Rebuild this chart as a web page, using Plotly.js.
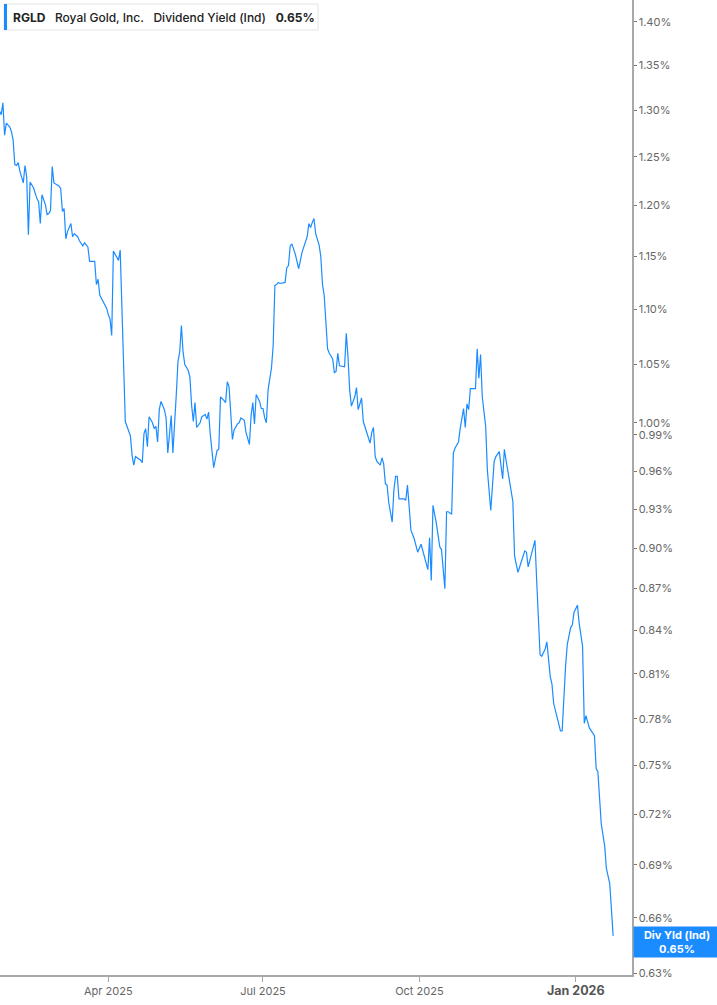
<!DOCTYPE html>
<html>
<head>
<meta charset="utf-8">
<script src="https://cdn.plot.ly/plotly-3.0.1.min.js"></script>
<style>
  html, body { margin: 0; padding: 0; background: #ffffff; }
  #chart { width: 717px; height: 1005px; }
</style>
</head>
<body>
<div id="chart"></div>
<script>
// Day number counted from 2025-01-01 (= 1); values above 365 fall in 2026
const dayNum = [
  27, 28, 29, 30, 31, 33, 34, 35, 36, 37,
  38, 39, 41, 42, 43, 44, 45, 47, 49, 50,
  51, 52, 54, 55, 56, 57, 58, 59, 62, 63,
  64, 65, 66, 67, 69, 70, 71, 73, 74, 76,
  77, 79, 80, 83, 84, 85, 86, 88, 90, 91,
  92, 93, 94, 95, 97, 98, 101, 102, 104, 105,
  106, 107, 110, 111, 112, 113, 114, 115, 117, 118,
  119, 120, 121, 122, 124, 125, 126, 128, 129, 131,
  132, 133, 134, 135, 136, 138, 139, 140, 141, 142,
  143, 145, 146, 148, 149, 150, 151, 153, 154, 155,
  156, 157, 159, 160, 161, 162, 163, 164, 165, 167,
  168, 169, 171, 172, 174, 175, 176, 177, 178, 180,
  181, 182, 183, 184, 185, 187, 188, 189, 190, 191,
  192, 194, 195, 196, 197, 198, 199, 201, 202, 203,
  205, 206, 208, 209, 210, 211, 212, 213, 215, 216,
  217, 218, 220, 221, 223, 224, 225, 226, 227, 230,
  231, 232, 233, 234, 236, 237, 238, 240, 241, 243,
  245, 246, 247, 248, 249, 251, 252, 253, 254, 255,
  256, 258, 259, 260, 261, 262, 265, 266, 267, 268,
  269, 271, 273, 275, 277, 279, 280, 281, 282, 284,
  286, 287, 289, 290, 291, 293, 294, 295, 297, 298,
  300, 301, 302, 303, 304, 307, 308, 309, 310, 311,
  313, 314, 316, 318, 319, 321, 323, 324, 325, 327,
  329, 330, 332, 334, 336, 337, 338, 340, 342, 343,
  345, 346, 348, 349, 350, 351, 352, 353, 355, 357,
  358, 359, 360, 361, 363, 364, 365, 367, 368, 370,
  371, 372, 373, 374, 377, 378, 379, 381, 383, 384,
  386, 388
];

// Dividend yield (indicated), percent
const yieldPct = [
  1.299, 1.295, 1.308, 1.273, 1.286, 1.282, 1.277, 1.268, 1.242, 1.241,
  1.244, 1.235, 1.223, 1.241, 1.229, 1.171, 1.224, 1.218, 1.207, 1.204,
  1.182, 1.211, 1.201, 1.191, 1.192, 1.195, 1.240, 1.223, 1.220, 1.217,
  1.194, 1.197, 1.167, 1.174, 1.182, 1.169, 1.172, 1.169, 1.165, 1.160,
  1.163, 1.159, 1.145, 1.145, 1.123, 1.128, 1.113, 1.107, 1.101, 1.095,
  1.091, 1.076, 1.155, 1.152, 1.146, 1.156, 1.001, 0.997, 0.989, 0.973,
  0.965, 0.972, 0.969, 0.967, 0.991, 0.995, 0.980, 1.005, 1.000, 0.995,
  0.997, 0.984, 1.011, 1.018, 1.011, 1.004, 0.975, 1.006, 0.975, 1.024,
  1.053, 1.061, 1.085, 1.061, 1.050, 1.045, 1.039, 1.015, 1.001, 1.017,
  0.996, 1.000, 1.005, 1.007, 1.003, 1.009, 0.990, 0.963, 0.971, 0.977,
  0.978, 1.022, 1.019, 1.017, 1.035, 1.031, 1.009, 0.986, 0.994, 0.999,
  1.000, 1.004, 1.002, 0.992, 0.982, 1.006, 1.017, 0.999, 1.024, 1.018,
  1.012, 1.012, 1.004, 1.000, 1.028, 1.047, 1.067, 1.122, 1.123, 1.125,
  1.124, 1.125, 1.125, 1.139, 1.141, 1.160, 1.162, 1.152, 1.143, 1.138,
  1.154, 1.159, 1.169, 1.182, 1.178, 1.183, 1.187, 1.172, 1.161, 1.150,
  1.123, 1.113, 1.064, 1.060, 1.055, 1.043, 1.044, 1.060, 1.049, 1.048,
  1.078, 1.057, 1.028, 1.014, 1.022, 1.030, 1.011, 1.021, 1.001, 0.992,
  0.983, 0.992, 0.996, 0.972, 0.968, 0.965, 0.971, 0.966, 0.950, 0.949,
  0.935, 0.920, 0.945, 0.956, 0.956, 0.938, 0.938, 0.937, 0.949, 0.932,
  0.914, 0.907, 0.897, 0.903, 0.894, 0.884, 0.908, 0.876, 0.933, 0.919,
  0.901, 0.899, 0.870, 0.928, 0.928, 0.926, 0.975, 0.979, 0.984, 0.995,
  1.012, 0.996, 1.016, 1.011, 1.029, 1.029, 1.064, 1.038, 1.059, 1.022,
  0.997, 0.961, 0.929, 0.968, 0.972, 0.976, 0.954, 0.978, 0.969, 0.953,
  0.936, 0.894, 0.882, 0.890, 0.898, 0.897, 0.886, 0.896, 0.906, 0.876,
  0.823, 0.822, 0.827, 0.832, 0.819, 0.808, 0.803, 0.790, 0.781, 0.772,
  0.772, 0.795, 0.815, 0.830, 0.842, 0.844, 0.853, 0.858, 0.845, 0.829,
  0.777, 0.782, 0.778, 0.774, 0.769, 0.748, 0.746, 0.714, 0.701, 0.688,
  0.679, 0.650
];

const xTickDates = ['2025-04-01', '2025-07-01', '2025-10-01', '2026-01-01'];
const xTickLabels = ['Apr 2025', 'Jul 2025', 'Oct 2025', 'Jan 2026'];
const yTickVals = [0.63, 0.66, 0.69, 0.72, 0.75, 0.78, 0.81, 0.84, 0.87, 0.90,
                   0.93, 0.96, 0.99, 1.00, 1.05, 1.10, 1.15, 1.20, 1.25, 1.30,
                   1.35, 1.40];
const ticker = 'RGLD';
const companyName = 'Royal Gold, Inc.';
const metricName = 'Dividend Yield (Ind)';
const shortMetric = 'Div Yld (Ind)';
const lastValue = 0.65;

const dates = dayNum.map(n => new Date(Date.UTC(2025, 0, n)).toISOString().slice(0, 10));
const blue = '#1a8cff';
const font = 'Inter, Roboto, "Open Sans", sans-serif';

const trace = {
  x: dates,
  y: yieldPct,
  type: 'scatter',
  mode: 'lines',
  line: { color: blue, width: 1.2 },
  hoverinfo: 'x+y'
};

const W = 632, H = 975; // plot area size in px (for paper conversion)
const px = v => v / W;
const py = v => 1 - v / H;
const gap = '\u00a0\u00a0\u00a0';

const layout = {
  width: 717,
  height: 1005,
  margin: { l: 0, r: 85, t: 0, b: 30, pad: 0 },
  paper_bgcolor: '#ffffff',
  plot_bgcolor: '#ffffff',
  showlegend: false,
  font: { family: font, size: 11, color: '#666' },
  xaxis: {
    type: 'date',
    range: ['2025-01-27 07:00', '2026-02-03 02:00'],
    showgrid: false,
    zeroline: false,
    showline: true,
    linecolor: '#a8a8a8',
    linewidth: 1.5,
    ticks: 'outside',
    ticklen: 5,
    tickwidth: 1,
    tickcolor: '#a8a8a8',
    tickvals: xTickDates,
    ticktext: xTickLabels.map(t => t.startsWith('Jan') ? '<b><span style="font-size:12.5px;fill:#555">' + t + '</span></b>' : t),
    tickfont: { family: font, size: 11, color: '#666' }
  },
  yaxis: {
    type: 'log',
    side: 'right',
    range: [Math.log10(0.629), Math.log10(1.426)],
    showgrid: false,
    zeroline: false,
    showline: true,
    linecolor: '#a8a8a8',
    linewidth: 1.5,
    ticks: 'outside',
    ticklen: 3,
    tickwidth: 1,
    tickcolor: '#777',
    tickvals: yTickVals,
    ticktext: yTickVals.map(v => v.toFixed(2) + '%'),
    tickfont: { family: font, size: 11, color: '#666' }
  },
  shapes: [
    {
      type: 'rect', xref: 'paper', yref: 'paper', layer: 'above',
      x0: px(4), x1: px(318), y0: py(30), y1: py(4),
      fillcolor: '#ffffff', line: { color: '#e4e4e4', width: 1 }
    },
    {
      type: 'rect', xref: 'paper', yref: 'paper', layer: 'above',
      x0: px(4), x1: px(7), y0: py(30), y1: py(4),
      fillcolor: blue, line: { width: 0 }
    }
  ],
  annotations: [
    {
      xref: 'paper', yref: 'paper', x: px(11), y: py(17),
      xanchor: 'left', yanchor: 'middle', showarrow: false,
      text: '<b>' + ticker + '</b>' + gap + companyName + gap + metricName + gap + '<b>' + lastValue.toFixed(2) + '%</b>',
      font: { family: font, size: 12, color: '#222', weight: 500 }
    },
    {
      xref: 'paper', yref: 'y', x: 1, y: Math.log10(lastValue),
      xanchor: 'left', yanchor: 'middle', showarrow: false,
      xshift: 1, yshift: -6,
      width: 82, height: 26,
      bgcolor: blue, borderpad: 2,
      text: '<b>' + shortMetric + '</b><br><b>' + lastValue.toFixed(2) + '%</b>',
      font: { family: font, size: 11, color: '#ffffff' },
      align: 'center'
    }
  ]
};

Plotly.newPlot('chart', [trace], layout, { displayModeBar: false, staticPlot: true });
</script>
</body>
</html>
